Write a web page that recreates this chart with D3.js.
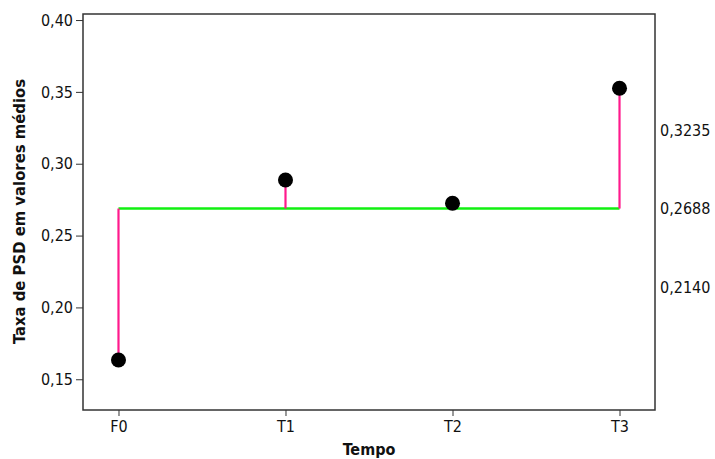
<!DOCTYPE html>
<html><head><meta charset="utf-8">
<script src="https://cdn.jsdelivr.net/npm/d3@7"></script>
<style>body{margin:0;background:#fff}svg{display:block}</style>
</head><body>
<script>
const categories = ["F0","T1","T2","T3"];
const values = [0.1634, 0.2887, 0.2725, 0.3525];
const meanValue = 0.2688;
const yTicks = [0.15,0.20,0.25,0.30,0.35,0.40];
const refLabels = ["0,3235","0,2688","0,2140"];
const refValues = [0.3235,0.2688,0.2140];

const W=715,H=459;
const L=83,R=655,T=14,B=410;
const FONT="'DejaVu Sans Condensed','DejaVu Sans',sans-serif";
const svg=d3.select("body").append("svg").attr("width",W).attr("height",H)
  .style("font-family",FONT);
const x=d3.scalePoint().domain(categories).range([L,R]).padding(0.2125);
const y=d3.scaleLinear().domain([0.1286,0.4042]).range([B,T]);
const fmt=d=>d.toFixed(2).replace(".",",");

svg.append("rect").attr("x",L).attr("y",T).attr("width",R-L).attr("height",B-T)
  .attr("fill","none").attr("stroke","#333").attr("stroke-width",1.5);

const ya=svg.append("g").attr("transform",`translate(${L},0)`)
  .call(d3.axisLeft(y).tickValues(yTicks).tickFormat(fmt).tickSize(7).tickPadding(3));
ya.select(".domain").remove();
ya.selectAll("text").attr("font-size","16px").attr("fill","#111").attr("font-family",FONT);
ya.selectAll("line").attr("stroke","#333");

const xa=svg.append("g").attr("transform",`translate(0,${B})`)
  .call(d3.axisBottom(x).tickSize(6).tickPadding(5));
xa.select(".domain").remove();
xa.selectAll("text").attr("font-size","16px").attr("fill","#111").attr("font-family",FONT);
xa.selectAll("line").attr("stroke","#333");

svg.append("line").attr("x1",x(categories[0])).attr("x2",x(categories[categories.length-1]))
  .attr("y1",y(meanValue)).attr("y2",y(meanValue)).attr("stroke","#11f011").attr("stroke-width",2.5);
svg.selectAll(".stem").data(values).enter().append("line")
  .attr("x1",(d,i)=>x(categories[i])).attr("x2",(d,i)=>x(categories[i]))
  .attr("y1",y(meanValue)).attr("y2",d=>y(d))
  .attr("stroke","#ff1a8c").attr("stroke-width",2.2);
svg.selectAll(".dot").data(values).enter().append("circle")
  .attr("cx",(d,i)=>x(categories[i])).attr("cy",d=>y(d)).attr("r",7.5).attr("fill","#000");

svg.selectAll(".ref").data(refValues).enter().append("text")
  .attr("x",660).attr("y",d=>y(d)).attr("dy","0.35em")
  .attr("font-size","16px").attr("fill","#111").text((d,i)=>refLabels[i]);

svg.append("text").attr("x",(L+R)/2).attr("y",455).attr("text-anchor","middle")
  .attr("font-weight","bold").attr("font-size","16px").attr("fill","#111").text("Tempo");
svg.append("text").attr("transform",`translate(25,${(80+343)/2}) rotate(-90)`)
  .attr("text-anchor","middle").attr("font-weight","bold").attr("font-size","16.5px")
  .attr("fill","#111").text("Taxa de PSD em valores médios");
</script>
</body></html>
